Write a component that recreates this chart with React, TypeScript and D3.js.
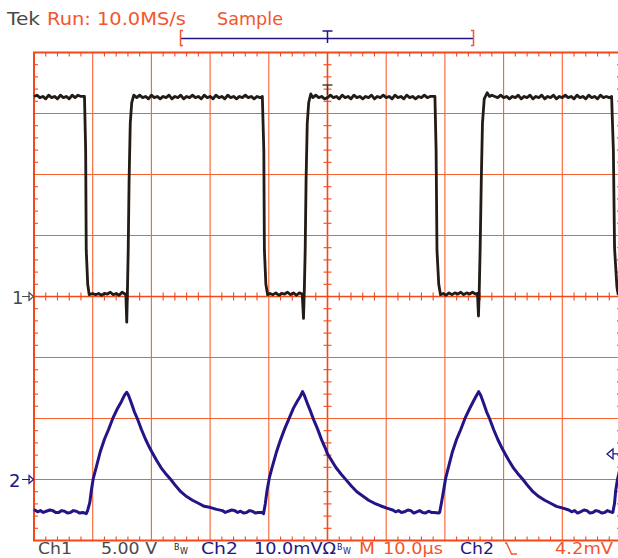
import React from "react";
import * as d3 from "d3";

// Screen geometry of the graticule: 10 x 8 divisions
const W = 618;
const H = 558;
const LEFT = 34;
const RIGHT = 621;
const TOP = 52.5;
const BOTTOM = 540.5;

// Horizontal: 10.0 µs/div, trigger at centre
const timeDomain: [number, number] = [-50, 50];
// Ch1: 5.00 V/div, ground at centre line
const ch1Domain: [number, number] = [-20, 20];
// Ch2: 10.0 mV/div, ground three divisions below centre
const ch2Domain: [number, number] = [-10, 70];
const triggerLevel = 4.2; // mV on Ch2

// Ch1 gate drive square wave [time µs, volts]
const ch1Trace: [number, number][] = [
  [-50, 16.4], [-49.5, 16.5], [-49, 16.3], [-48.5, 16.4], [-48, 16.2], [-47.5, 16.5], [-47, 16.3],
  [-46.5, 16.4], [-46, 16.2], [-45.5, 16.5], [-45, 16.3], [-44.5, 16.4], [-44, 16.2], [-43.5, 16.5],
  [-43, 16.3], [-42.5, 16.5], [-42, 16.4], [-41.4, 16.4],
  [-41.2, 12.0], [-41.1, 3.8], [-40.85, 1.0], [-40.6, 0.15],
  [-40, 0.25], [-39.5, 0.15], [-39, 0.25], [-38.5, 0.1], [-38, 0.25], [-37.5, 0.2], [-37, 0.35],
  [-36.5, 0.15], [-36, 0.25], [-35.5, 0.1], [-35, 0.35], [-34.5, 0.2], [-34.35, 0.2],
  [-34.2, -2.1], [-34.08, 0.5], [-33.95, 3.8], [-33.8, 9.5], [-33.6, 14.2], [-33.35, 15.9], [-33.0, 16.5],
  [-32.5, 16.3], [-32, 16.5], [-31.5, 16.3], [-31, 16.4], [-30.5, 16.2], [-30, 16.5], [-29.5, 16.3],
  [-29, 16.4], [-28.5, 16.2], [-28, 16.4], [-27.5, 16.3], [-27, 16.5], [-26.5, 16.2], [-26, 16.4],
  [-25.5, 16.3], [-25, 16.5], [-24.5, 16.2], [-24, 16.4], [-23.5, 16.3], [-23, 16.5], [-22.5, 16.3],
  [-22, 16.4], [-21.5, 16.2], [-21, 16.5], [-20.5, 16.3], [-20, 16.4], [-19.5, 16.2], [-19, 16.5],
  [-18.5, 16.3], [-18, 16.4], [-17.5, 16.2], [-17, 16.5], [-16.5, 16.3], [-16, 16.4], [-15.5, 16.2],
  [-15, 16.4], [-14.5, 16.3], [-14, 16.5], [-13.5, 16.3], [-13, 16.4], [-12.5, 16.2], [-12, 16.4],
  [-11.5, 16.3], [-11.1, 16.4],
  [-10.85, 12.0], [-10.75, 3.8], [-10.5, 1.0], [-10.2, 0.15],
  [-9.8, 0.25], [-9.3, 0.15], [-8.8, 0.3], [-8.3, 0.1], [-7.8, 0.25], [-7.3, 0.2], [-6.8, 0.35],
  [-6.3, 0.15], [-5.8, 0.3], [-5.3, 0.1], [-4.8, 0.3], [-4.3, 0.2],
  [-4.09, -1.8], [-3.95, 0.5], [-3.8, 3.8], [-3.65, 9.5], [-3.45, 14.2], [-3.2, 15.9], [-2.85, 16.6],
  [-2.5, 16.3], [-2, 16.5], [-1.5, 16.3], [-1, 16.4], [-0.5, 16.2], [0, 16.3], [0.5, 16.5], [1, 16.3],
  [1.5, 16.4], [2, 16.2], [2.5, 16.5], [3, 16.3], [3.5, 16.4], [4, 16.2], [4.5, 16.5], [5, 16.3],
  [5.5, 16.4], [6, 16.2], [6.5, 16.4], [7, 16.3], [7.5, 16.5], [8, 16.2], [8.5, 16.4], [9, 16.3],
  [9.5, 16.5], [10, 16.3], [10.5, 16.4], [11, 16.2], [11.5, 16.5], [12, 16.3], [12.5, 16.4], [13, 16.2],
  [13.5, 16.5], [14, 16.3], [14.5, 16.4], [15, 16.2], [15.5, 16.4], [16, 16.3], [16.5, 16.5], [17, 16.3],
  [17.5, 16.4], [18, 16.4], [18.3, 16.4],
  [18.5, 12.0], [18.65, 3.8], [18.95, 1.0], [19.25, 0.15],
  [19.7, 0.25], [20.2, 0.1], [20.7, 0.3], [21.2, 0.15], [21.7, 0.3], [22.2, 0.2], [22.7, 0.35],
  [23.2, 0.15], [23.7, 0.3], [24.2, 0.2], [24.7, 0.35], [25.2, 0.2], [25.55, 0.25],
  [25.72, -1.6], [25.85, 0.5], [26.0, 3.8], [26.2, 9.5], [26.4, 14.2], [26.7, 16.2], [27.2, 16.7],
  [27.6, 16.4], [28, 16.5], [28.5, 16.4], [29, 16.3], [29.5, 16.5], [30, 16.3], [30.5, 16.4], [31, 16.2],
  [31.5, 16.4], [32, 16.3], [32.5, 16.5], [33, 16.2], [33.5, 16.4], [34, 16.3], [34.5, 16.5], [35, 16.2],
  [35.5, 16.4], [36, 16.3], [36.5, 16.5], [37, 16.2], [37.5, 16.4], [38, 16.3], [38.5, 16.5], [39, 16.2],
  [39.5, 16.4], [40, 16.3], [40.5, 16.5], [41, 16.3], [41.5, 16.4], [42, 16.2], [42.5, 16.5], [43, 16.3],
  [43.5, 16.4], [44, 16.2], [44.5, 16.5], [45, 16.3], [45.5, 16.4], [46, 16.2], [46.5, 16.5], [47, 16.3],
  [47.5, 16.4], [48, 16.3], [48.4, 16.4],
  [48.7, 12.0], [48.9, 4.0], [49.3, 0.8], [49.5, 0.2], [50, 0.2],
];

// Ch2 current-sense pulses [time µs, millivolts]
const ch2Trace: [number, number][] = [
  [-50, -4.9], [-49.4, -5.3], [-48.9, -5.1], [-48.4, -5.4], [-47.9, -5.2], [-47.3, -5.0], [-46.8, -5.1],
  [-46.3, -5.4], [-45.8, -5.4], [-45.3, -5.1], [-44.8, -5.2], [-44.3, -5.5], [-43.8, -5.4], [-43.3, -5.1],
  [-42.8, -5.2], [-42.2, -5.5], [-41.7, -5.4], [-41.1, -5.6],
  [-40.9, -5.2], [-40.5, -3.8], [-40.2, -1.6], [-39.9, 0.2], [-39.4, 2.0], [-38.7, 4.6], [-38.0, 6.6],
  [-37.3, 8.2], [-36.5, 10.2], [-35.8, 11.6], [-35.1, 12.8], [-34.6, 13.8], [-34.2, 14.3],
  [-33.9, 13.8], [-33.4, 12.5], [-32.9, 11.1], [-32.4, 10.0], [-31.7, 8.2], [-31.0, 6.6], [-30.3, 5.2],
  [-29.8, 4.3], [-29.1, 3.1], [-28.4, 2.0], [-27.6, 1.0], [-26.7, 0], [-25.9, -1.0], [-25.0, -2.0],
  [-24.0, -2.8], [-23.0, -3.4], [-22.0, -3.9], [-21.0, -4.4], [-19.9, -4.6], [-18.9, -4.9], [-17.9, -5.1],
  [-17.4, -5.4], [-16.9, -5.2], [-16.3, -5.0], [-15.8, -5.1], [-15.3, -5.4], [-14.8, -5.2], [-14.3, -5.5],
  [-13.8, -5.4], [-13.3, -5.1], [-12.8, -5.2], [-12.3, -5.5], [-11.8, -5.4], [-11.1, -5.4],
  [-10.9, -5.6], [-10.6, -4.0], [-10.3, -1.8], [-9.9, 0.3], [-9.4, 2.1], [-8.7, 4.5], [-8.0, 6.5],
  [-7.3, 8.3], [-6.5, 10.1], [-5.8, 11.7], [-5.1, 12.9], [-4.6, 13.7], [-4.25, 14.4],
  [-3.9, 13.7], [-3.4, 12.4], [-2.9, 11.2], [-2.4, 9.9], [-1.7, 8.3], [-1.0, 6.5], [-0.4, 5.2],
  [0, 4.2], [0.7, 3.1], [1.4, 2.0], [2.3, 0.9], [3.2, -0.1], [4.1, -1.1], [5.0, -2.0], [6.0, -2.7],
  [7.0, -3.4], [8.0, -3.9], [9.0, -4.3], [10.1, -4.7], [11.1, -5.0], [11.6, -5.3], [12.1, -5.1],
  [12.6, -5.4], [13.1, -5.3], [13.7, -5.0], [14.2, -5.1], [14.7, -5.5], [15.2, -5.3], [15.7, -5.1],
  [16.2, -5.4], [16.7, -5.5], [17.2, -5.2], [17.7, -5.4], [18.2, -5.4], [18.9, -5.5],
  [19.1, -5.4], [19.4, -3.9], [19.8, -1.7], [20.1, 0.1], [20.6, 2.0], [21.3, 4.6], [22.0, 6.6],
  [22.7, 8.2], [23.5, 10.2], [24.2, 11.6], [24.9, 12.9], [25.4, 13.8], [25.75, 14.4],
  [26.1, 13.8], [26.6, 12.5], [27.1, 11.1], [27.6, 10.0], [28.3, 8.2], [29.0, 6.6], [29.7, 5.2],
  [30.2, 4.3], [30.9, 3.1], [31.6, 2.0], [32.4, 1.0], [33.3, 0], [34.1, -1.0], [35.0, -2.0],
  [36.0, -2.8], [37.0, -3.4], [38.0, -3.9], [39.0, -4.4], [40.1, -4.7], [41.1, -5.0], [41.6, -5.3],
  [42.1, -5.1], [42.6, -5.5], [43.1, -5.3], [43.7, -5.0], [44.2, -5.1], [44.7, -5.5], [45.2, -5.4],
  [45.7, -5.1], [46.2, -5.2], [46.7, -5.5], [47.2, -5.4], [47.7, -5.1], [48.2, -5.3], [48.6, -5.4],
  [48.9, -3.9], [49.1, -1.8], [49.4, 0.0], [50, 2.5],
];

// Readout texts
const headerBrand = "Tek";
const headerRun = "Run: 10.0MS/s";
const headerMode = "Sample";
const ch1Scale = ["Ch1", "5.00 V"];
const ch2Scale = ["Ch2", "10.0mVΩ"];
const timebase = ["M", "10.0µs"];
const triggerReadout = ["Ch2", "4.2mV"];

const GRID = "#f5481a";
const GRID_LIGHT = "#f6622f";
const ORANGE = "#f2562c";
const NAVY = "#231585";
const TRACE1 = "#221b16";
const GRAY = "#4a4a4a";
const FONT = "'DejaVu Sans', sans-serif";

export default function App() {
  const x = d3.scaleLinear().domain(timeDomain).range([LEFT, RIGHT]);
  const y1 = d3.scaleLinear().domain(ch1Domain).range([BOTTOM, TOP]);
  const y2 = d3.scaleLinear().domain(ch2Domain).range([BOTTOM, TOP]);

  const line1 = d3
    .line<[number, number]>()
    .x((d) => x(d[0]))
    .y((d) => y1(d[1]));
  const line2 = d3
    .line<[number, number]>()
    .x((d) => x(d[0]))
    .y((d) => y2(d[1]));

  const divX = d3.range(timeDomain[0], timeDomain[1] + 0.001, 10);
  const divY = d3.range(ch1Domain[0], ch1Domain[1] + 0.001, 5);
  const minorX = d3.range(timeDomain[0], timeDomain[1] + 0.001, 2);
  const minorY = d3.range(ch1Domain[0], ch1Domain[1] + 0.001, 1);

  const cx = x(0);
  const cy = y1(0);
  const tick = 4;

  const ch1Ground = y1(0);
  const ch2Ground = y2(0);
  const trigY = y2(triggerLevel);
  const footY = 554;

  return (
    <svg
      width={W}
      height={H}
      style={{ position: "absolute", left: 0, top: 0, background: "#fff" }}
      fontFamily={FONT}
    >
      <rect width={W} height={H} fill="#fff" />

      {/* interior division lines */}
      {divX.slice(1, -1).map((t) => (
        <line key={"vx" + t} x1={x(t)} x2={x(t)} y1={TOP} y2={BOTTOM} stroke={t === 0 ? GRID : GRID_LIGHT} strokeWidth={t === 0 ? 1.6 : 1.1} />
      ))}
      {divY.slice(1, -1).map((v) => (
        <line key={"hy" + v} x1={LEFT} x2={RIGHT} y1={y1(v)} y2={y1(v)} stroke={v === 0 ? GRID : GRID_LIGHT} strokeWidth={v === 0 ? 1.6 : 1.1} />
      ))}

      {/* minor ticks on the border and centre cross */}
      {minorX.map((t) =>
        divX.includes(t) ? null : (
          <g key={"mx" + t} stroke={GRID} strokeWidth={1.1}>
            <line x1={x(t)} x2={x(t)} y1={TOP} y2={TOP + tick} />
            <line x1={x(t)} x2={x(t)} y1={BOTTOM - tick} y2={BOTTOM} />
            <line x1={x(t)} x2={x(t)} y1={cy - tick} y2={cy + tick} />
          </g>
        )
      )}
      {minorY.map((v) =>
        divY.includes(v) ? null : (
          <g key={"my" + v} stroke={GRID} strokeWidth={1.1}>
            <line x1={LEFT} x2={LEFT + tick} y1={y1(v)} y2={y1(v)} />
            <line x1={RIGHT - tick} x2={RIGHT} y1={y1(v)} y2={y1(v)} />
            <line x1={cx - tick} x2={cx + tick} y1={y1(v)} y2={y1(v)} />
          </g>
        )
      )}

      {/* graticule border */}
      <rect x={LEFT} y={TOP} width={RIGHT - LEFT} height={BOTTOM - TOP} fill="none" stroke={GRID} strokeWidth={2} />

      {/* traces */}
      <path d={line2(ch2Trace) ?? ""} fill="none" stroke={NAVY} strokeWidth={3} strokeLinejoin="round" />
      <path d={line1(ch1Trace) ?? ""} fill="none" stroke={TRACE1} strokeWidth={2.8} strokeLinejoin="round" />

      {/* trigger point marker on the Ch1 waveform */}
      <g stroke="#3a3a3a" strokeWidth={1.4} fill="none">
        <line x1={cx - 5} x2={cx + 5} y1={85} y2={85} />
        <line x1={cx} x2={cx} y1={85} y2={95} />
      </g>

      {/* channel ground markers */}
      <g>
        <text x={12} y={ch1Ground + 7} fontSize={18} fill={GRAY}>1</text>
        <path d={`M22,${ch1Ground} H30 M29,${ch1Ground - 4} L33.5,${ch1Ground} L29,${ch1Ground + 4} Z`} stroke={GRAY} strokeWidth={1.2} fill="none" />
        <text x={9} y={ch2Ground + 7} fontSize={18} fill={NAVY}>2</text>
        <path d={`M22,${ch2Ground} H30 M29,${ch2Ground - 4} L33.5,${ch2Ground} L29,${ch2Ground + 4} Z`} stroke={NAVY} strokeWidth={1.2} fill="none" />
      </g>

      {/* trigger level marker */}
      <path d={`M607,${trigY} L613,${trigY - 5} L613,${trigY + 5} Z M613,${trigY} H618`} stroke={NAVY} strokeWidth={1.3} fill="none" />

      {/* header */}
      <text x={7} y={25} fontSize={18} fill={GRAY} textLength={33} lengthAdjust="spacingAndGlyphs">{headerBrand}</text>
      <text x={47} y={25} fontSize={18} fill={ORANGE} textLength={139} lengthAdjust="spacingAndGlyphs">{headerRun}</text>
      <text x={217} y={25} fontSize={18} fill={ORANGE} textLength={66} lengthAdjust="spacingAndGlyphs">{headerMode}</text>

      {/* record / trigger position bar */}
      <line x1={181} x2={473} y1={38.5} y2={38.5} stroke={NAVY} strokeWidth={1.5} />
      <path d="M183,30.5 H180.5 V45.5 H183" stroke={ORANGE} strokeWidth={1.5} fill="none" />
      <path d="M471,30.5 H473.5 V45.5 H471" stroke={ORANGE} strokeWidth={1.5} fill="none" />
      <path d={`M${cx - 5},31 H${cx + 5} M${cx},31 V43`} stroke={NAVY} strokeWidth={1.5} fill="none" />

      {/* footer readouts */}
      <g fontSize={16}>
        <text x={38} y={footY} fill={GRAY} textLength={34} lengthAdjust="spacingAndGlyphs">{ch1Scale[0]}</text>
        <text x={101} y={footY} fill={GRAY} textLength={56} lengthAdjust="spacingAndGlyphs">{ch1Scale[1]}</text>
        <text x={174} y={550} fontSize={8} fill="#222">B</text>
        <text x={180} y={footY} fontSize={8} fill="#222">W</text>
        <text x={201} y={footY} fill={NAVY} textLength={37} lengthAdjust="spacingAndGlyphs">{ch2Scale[0]}</text>
        <text x={254} y={footY} fill={NAVY} textLength={82} lengthAdjust="spacingAndGlyphs">{ch2Scale[1]}</text>
        <text x={337} y={550} fontSize={8} fill={NAVY}>B</text>
        <text x={343} y={footY} fontSize={8} fill={NAVY}>W</text>
        <text x={359} y={footY} fill={ORANGE} textLength={16} lengthAdjust="spacingAndGlyphs">{timebase[0]}</text>
        <text x={383} y={footY} fill={ORANGE} textLength={60} lengthAdjust="spacingAndGlyphs">{timebase[1]}</text>
        <text x={460} y={footY} fill={NAVY} textLength={34} lengthAdjust="spacingAndGlyphs">{triggerReadout[0]}</text>
        <path d="M505,543 H506.5 L511.5,554 H517" stroke={ORANGE} strokeWidth={1.4} fill="none" />
        <text x={555} y={footY} fill={ORANGE} textLength={58} lengthAdjust="spacingAndGlyphs">{triggerReadout[1]}</text>
      </g>
    </svg>
  );
}
